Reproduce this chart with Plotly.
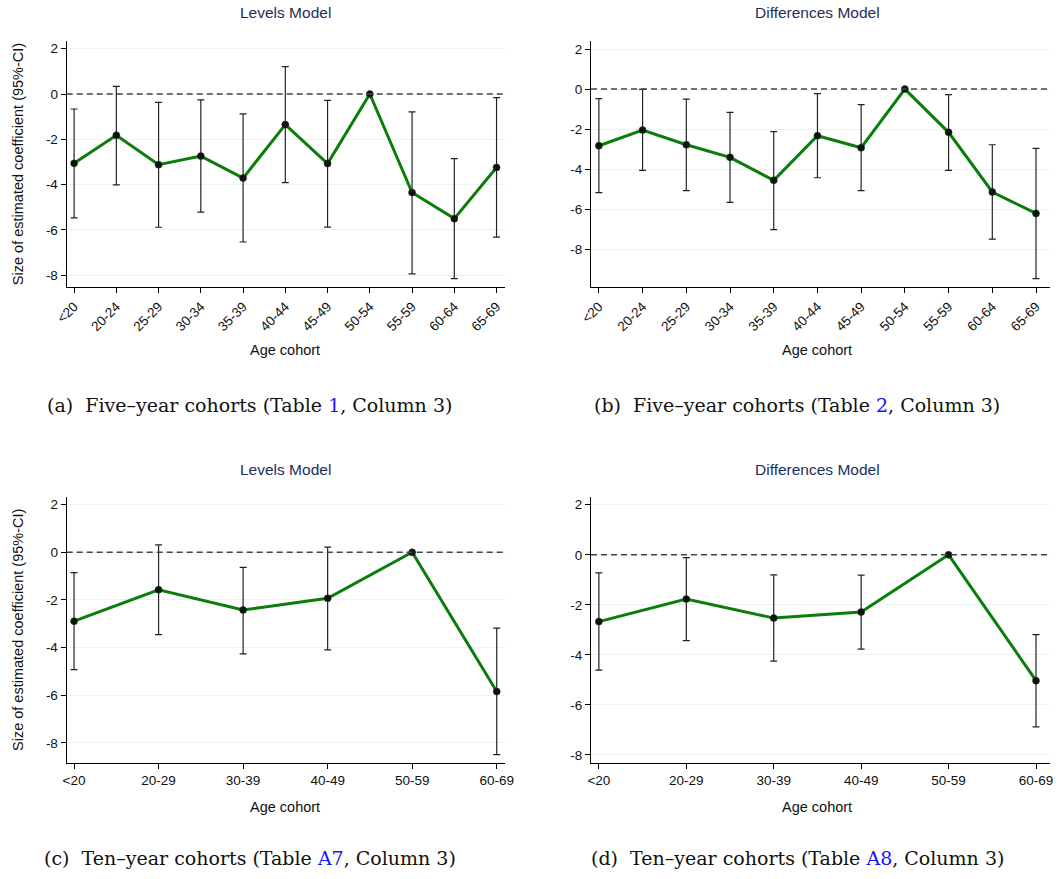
import plotly.graph_objects as go

# ---------------- data ----------------
cohorts5 = ["<20", "20-24", "25-29", "30-34", "35-39", "40-44", "45-49", "50-54", "55-59", "60-64", "65-69"]
cohorts10 = ["<20", "20-29", "30-39", "40-49", "50-59", "60-69"]

a_coef = [-3.06, -1.82, -3.12, -2.74, -3.71, -1.35, -3.07, 0.0, -4.35, -5.50, -3.24]
a_hi = [-0.66, 0.34, -0.37, -0.26, -0.88, 1.21, -0.28, None, -0.79, -2.85, -0.16]
a_lo = [-5.47, -4.01, -5.88, -5.21, -6.53, -3.91, -5.87, None, -7.94, -8.15, -6.32]

b_coef = [-2.83, -2.05, -2.78, -3.41, -4.56, -2.33, -2.93, 0.0, -2.16, -5.14, -6.21]
b_hi = [-0.48, -0.02, -0.50, -1.16, -2.13, -0.23, -0.78, None, -0.28, -2.78, -2.96]
b_lo = [-5.17, -4.06, -5.07, -5.66, -7.02, -4.43, -5.07, None, -4.06, -7.49, -9.47]

c_coef = [-2.89, -1.57, -2.42, -1.93, 0.0, -5.84]
c_hi = [-0.85, 0.31, -0.63, 0.22, None, -3.18]
c_lo = [-4.92, -3.45, -4.26, -4.09, None, -8.49]

d_coef = [-2.67, -1.77, -2.53, -2.29, 0.0, -5.03]
d_hi = [-0.72, -0.11, -0.80, -0.81, None, -3.19]
d_lo = [-4.61, -3.43, -4.25, -3.77, None, -6.88]

titles = ["Levels Model", "Differences Model", "Levels Model", "Differences Model"]
captions = [
    ("(a)", "Five–year cohorts (Table ", "1", ", Column 3)"),
    ("(b)", "Five–year cohorts (Table ", "2", ", Column 3)"),
    ("(c)", "Ten–year cohorts (Table ", "A7", ", Column 3)"),
    ("(d)", "Ten–year cohorts (Table ", "A8", ", Column 3)"),
]
ytick_vals = [-8, -6, -4, -2, 0, 2]
ylabel = "Size of estimated coefficient (95%-CI)"
xlabel = "Age cohort"

# ---------------- layout geometry ----------------
W, H = 1059, 879
SANS = "Liberation Sans, Arial, sans-serif"
SERIF = "DejaVu Serif, serif"
GREEN = "#0a7d0a"


def fx(px):
    return px / W


def fy(py):
    return 1 - py / H


panels = [
    dict(cats=cohorts5, coef=a_coef, hi=a_hi, lo=a_lo, px=(66.7, 505), py=(41, 287.3),
         xr=[-0.175, 10.2], yr=[-8.53, 2.34], angle=-45, ylab=True),
    dict(cats=cohorts5, coef=b_coef, hi=b_hi, lo=b_lo, px=(591, 1050), py=(41, 287.3),
         xr=[-0.18, 10.32], yr=[-9.9, 2.4], angle=-45, ylab=False),
    dict(cats=cohorts10, coef=c_coef, hi=c_hi, lo=c_lo, px=(66.7, 505), py=(497, 763),
         xr=[-0.087, 5.098], yr=[-8.84, 2.32], angle=0, ylab=True),
    dict(cats=cohorts10, coef=d_coef, hi=d_hi, lo=d_lo, px=(591, 1050), py=(497, 763),
         xr=[-0.09, 5.16], yr=[-8.32, 2.31], angle=0, ylab=False),
]
title_pos = [(285, 12.5), (817, 12.5), (285, 469), (817, 469)]
xtitle_pos = [(285, 350), (817, 350), (285, 807), (817, 807)]
caption_pos = [(249, 405), (797, 405), (250, 858), (797, 858)]

fig = go.Figure()
annotations = []
shapes = []

for i, p in enumerate(panels):
    n = i + 1
    xa = "x" if n == 1 else f"x{n}"
    ya = "y" if n == 1 else f"y{n}"
    xdom = [fx(p["px"][0]), fx(p["px"][1])]
    ydom = [fy(p["py"][1]), fy(p["py"][0])]
    xs = list(range(len(p["cats"])))

    # CI bars (skip reference category)
    ex, ey, eplus, eminus = [], [], [], []
    for k, (c, h, l) in enumerate(zip(p["coef"], p["hi"], p["lo"])):
        if h is None:
            continue
        ex.append(k)
        ey.append(c)
        eplus.append(h - c)
        eminus.append(c - l)

    fig.add_trace(go.Scatter(
        x=ex, y=ey, mode="markers", marker=dict(size=1, opacity=0),
        error_y=dict(type="data", symmetric=False, array=eplus, arrayminus=eminus,
                     color="#222222", thickness=1.2, width=3.5),
        xaxis=xa, yaxis=ya, showlegend=False, hoverinfo="skip"))
    fig.add_trace(go.Scatter(
        x=xs, y=p["coef"], mode="lines+markers",
        line=dict(color=GREEN, width=3),
        marker=dict(color="#111111", size=7, line=dict(color="#0a3a0a", width=0.5)),
        xaxis=xa, yaxis=ya, showlegend=False))

    axis_common = dict(showline=True, linecolor="black", linewidth=1.2, ticks="outside",
                       ticklen=5, tickcolor="black", tickwidth=1, automargin=False,
                       tickfont=dict(family=SANS, size=13.5, color="#111111"))
    fig.update_layout(**{
        ("xaxis" if n == 1 else f"xaxis{n}"): dict(
            domain=xdom, anchor=ya, range=p["xr"], tickmode="array",
            tickvals=xs, ticktext=p["cats"], tickangle=p["angle"],
            showgrid=False, zeroline=False, **axis_common),
        ("yaxis" if n == 1 else f"yaxis{n}"): dict(
            domain=ydom, anchor=xa, range=p["yr"], tickmode="array",
            tickvals=ytick_vals, ticktext=[str(v) for v in ytick_vals],
            showgrid=True, gridcolor="#eaf2f2", gridwidth=1, zeroline=False,
            **axis_common),
    })

    # dashed zero reference line
    shapes.append(dict(type="line", xref=f"{xa} domain", yref=ya, x0=0, x1=1, y0=0, y1=0,
                       line=dict(color="#444444", width=1.6, dash="6px,4px"), layer="above"))

    # panel title
    tx, ty = title_pos[i]
    annotations.append(dict(text=titles[i], x=fx(tx), y=fy(ty),
                            xref="paper", yref="paper", showarrow=False,
                            font=dict(family=SANS, size=15.5, color="#1f2d5c"),
                            xanchor="center", yanchor="middle"))
    # x axis title
    ax_, ay_ = xtitle_pos[i]
    annotations.append(dict(text=xlabel, x=fx(ax_), y=fy(ay_),
                            xref="paper", yref="paper", showarrow=False,
                            font=dict(family=SANS, size=14.5, color="#111111"),
                            xanchor="center", yanchor="middle"))
    # y axis title
    if p["ylab"]:
        cy = (p["py"][0] + p["py"][1]) / 2
        annotations.append(dict(text=ylabel, x=fx(18), y=fy(cy), textangle=-90,
                                xref="paper", yref="paper", showarrow=False,
                                font=dict(family=SANS, size=14.5, color="#111111"),
                                xanchor="center", yanchor="middle"))
    # sub-caption
    lab, pre, ref, post = captions[i]
    cx_, cy_ = caption_pos[i]
    annotations.append(dict(
        text=f"{lab}&nbsp;&nbsp;{pre}<span style='color:#1414ff'>{ref}</span>{post}",
        x=fx(cx_), y=fy(cy_), xref="paper", yref="paper", showarrow=False,
        font=dict(family=SERIF, size=19, color="#111111"),
        xanchor="center", yanchor="middle"))

fig.update_layout(
    width=W, height=H, margin=dict(l=0, r=0, t=0, b=0),
    paper_bgcolor="white", plot_bgcolor="white",
    annotations=annotations, shapes=shapes, showlegend=False,
)

# remove the browser's default 8px page margin so the figure fills the window exactly
fig.write_html("out.html", config={"displayModeBar": False},
               post_script="document.body.style.margin='0px';"
               "document.body.style.overflow='hidden';")
